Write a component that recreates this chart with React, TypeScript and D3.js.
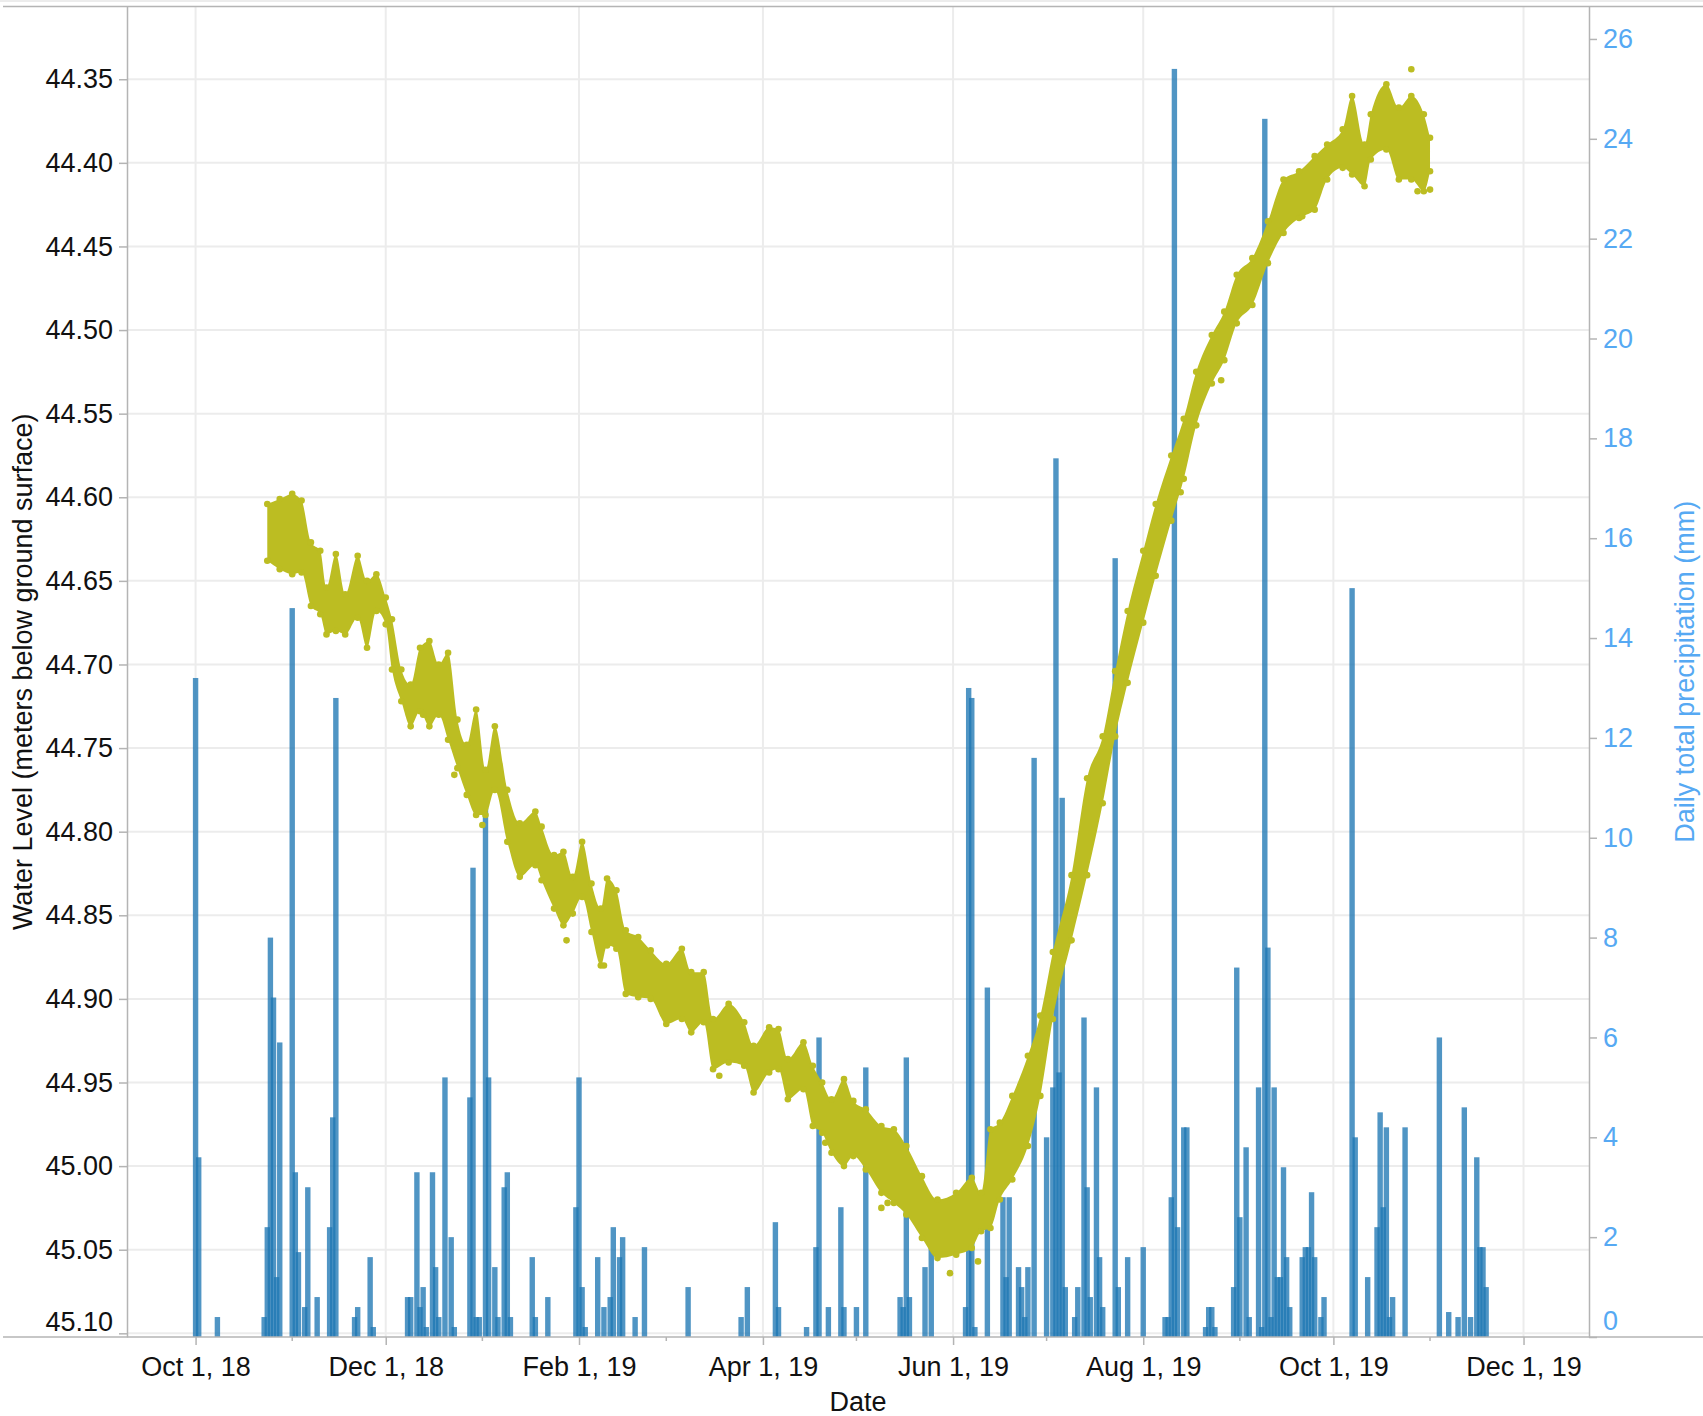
import { useEffect, useRef } from 'react'
import * as d3 from 'd3'

const W = 1703
const H = 1416
const PLOT = { left: 127, right: 1589, top: 6.5, bottom: 1337 }
const FONT = 'Arial, "Liberation Sans", Helvetica, sans-serif'
const FONT_SIZE = 27
const AXIS = '#b4b4b4'
const GRID = '#ececec'
const PRECIP_TEXT = '#56a9f3'
const BAR = '#1f77b4'
const OLIVE = '#bcbd22'
const BAR_W = 5.4

const xDomain = ['2018-09-09', '2019-12-22']
const levelDomain: [number, number] = [44.3065, 45.1022]
const precipDomain: [number, number] = [0, 26.65]

const levelTicks = [44.35, 44.4, 44.45, 44.5, 44.55, 44.6, 44.65, 44.7, 44.75, 44.8, 44.85, 44.9, 44.95, 45.0, 45.05, 45.1]
const precipTicks = [0, 2, 4, 6, 8, 10, 12, 14, 16, 18, 20, 22, 24, 26]
const dateTicks = ['2018-10-01', '2018-12-01', '2019-02-01', '2019-04-01', '2019-06-01', '2019-08-01', '2019-10-01', '2019-12-01']
const minorDateTicks = ['2018-11-01', '2019-01-01', '2019-03-01', '2019-05-01', '2019-07-01', '2019-09-01', '2019-11-01']

// daily total precipitation (mm)
const precipitation: [string, number][] = [
  ['2018-10-01', 13.2], ['2018-10-02', 3.6], ['2018-10-08', 0.4],
  ['2018-10-23', 0.4], ['2018-10-24', 2.2], ['2018-10-25', 8.0], ['2018-10-26', 6.8], ['2018-10-27', 1.2], ['2018-10-28', 5.9],
  ['2018-11-01', 14.6], ['2018-11-02', 3.3], ['2018-11-03', 1.7], ['2018-11-05', 0.6], ['2018-11-06', 3.0], ['2018-11-09', 0.8],
  ['2018-11-13', 2.2], ['2018-11-14', 4.4], ['2018-11-15', 12.8], ['2018-11-21', 0.4], ['2018-11-22', 0.6], ['2018-11-26', 1.6], ['2018-11-27', 0.2],
  ['2018-12-08', 0.8], ['2018-12-09', 0.8], ['2018-12-11', 3.3], ['2018-12-12', 0.6], ['2018-12-13', 1.0], ['2018-12-14', 0.2],
  ['2018-12-16', 3.3], ['2018-12-17', 1.4], ['2018-12-18', 0.4], ['2018-12-20', 5.2], ['2018-12-22', 2.0], ['2018-12-23', 0.2],
  ['2018-12-28', 4.8], ['2018-12-29', 9.4], ['2018-12-30', 0.4], ['2018-12-31', 0.4],
  ['2019-01-02', 10.6], ['2019-01-03', 5.2], ['2019-01-05', 1.4], ['2019-01-06', 0.4], ['2019-01-08', 3.0], ['2019-01-09', 3.3], ['2019-01-10', 0.4],
  ['2019-01-17', 1.6], ['2019-01-18', 0.4], ['2019-01-22', 0.8], ['2019-01-31', 2.6],
  ['2019-02-01', 5.2], ['2019-02-02', 1.0], ['2019-02-03', 0.2], ['2019-02-07', 1.6], ['2019-02-09', 0.6], ['2019-02-11', 0.8],
  ['2019-02-12', 2.2], ['2019-02-14', 1.6], ['2019-02-15', 2.0], ['2019-02-19', 0.4], ['2019-02-22', 1.8],
  ['2019-03-08', 1.0], ['2019-03-25', 0.4], ['2019-03-27', 1.0],
  ['2019-04-05', 2.3], ['2019-04-06', 0.6], ['2019-04-15', 0.2], ['2019-04-18', 1.8], ['2019-04-19', 6.0], ['2019-04-22', 0.6],
  ['2019-04-26', 2.6], ['2019-04-27', 0.6], ['2019-05-01', 0.6], ['2019-05-04', 5.4],
  ['2019-05-15', 0.8], ['2019-05-16', 0.6], ['2019-05-17', 5.6], ['2019-05-18', 0.8], ['2019-05-23', 1.4], ['2019-05-25', 2.2],
  ['2019-06-05', 0.6], ['2019-06-06', 13.0], ['2019-06-07', 12.8], ['2019-06-08', 0.2], ['2019-06-12', 7.0],
  ['2019-06-17', 2.8], ['2019-06-18', 1.2], ['2019-06-19', 2.8], ['2019-06-22', 1.4], ['2019-06-23', 1.0], ['2019-06-24', 0.4],
  ['2019-06-25', 1.4], ['2019-06-27', 11.6],
  ['2019-07-01', 4.0], ['2019-07-03', 5.0], ['2019-07-04', 17.6], ['2019-07-05', 5.3], ['2019-07-06', 10.8], ['2019-07-07', 1.0],
  ['2019-07-10', 0.4], ['2019-07-11', 1.0], ['2019-07-13', 6.4], ['2019-07-14', 3.0], ['2019-07-15', 0.8], ['2019-07-17', 5.0],
  ['2019-07-18', 1.6], ['2019-07-19', 0.6], ['2019-07-23', 15.6], ['2019-07-24', 1.0], ['2019-07-27', 1.6],
  ['2019-08-01', 1.8], ['2019-08-08', 0.4], ['2019-08-09', 0.4], ['2019-08-10', 2.8], ['2019-08-11', 25.4], ['2019-08-12', 2.2],
  ['2019-08-14', 4.2], ['2019-08-15', 4.2], ['2019-08-21', 0.2], ['2019-08-22', 0.6], ['2019-08-23', 0.6], ['2019-08-24', 0.2],
  ['2019-08-30', 1.0], ['2019-08-31', 7.4], ['2019-09-01', 2.4], ['2019-09-03', 3.8], ['2019-09-04', 0.4], ['2019-09-07', 5.0],
  ['2019-09-08', 0.2], ['2019-09-09', 24.4], ['2019-09-10', 7.8], ['2019-09-11', 0.4], ['2019-09-12', 5.0], ['2019-09-13', 1.2],
  ['2019-09-14', 1.2], ['2019-09-15', 3.4], ['2019-09-16', 1.6], ['2019-09-17', 0.6], ['2019-09-21', 1.6], ['2019-09-22', 1.8],
  ['2019-09-23', 1.8], ['2019-09-24', 2.9], ['2019-09-25', 1.6], ['2019-09-27', 0.4], ['2019-09-28', 0.8],
  ['2019-10-07', 15.0], ['2019-10-08', 4.0], ['2019-10-12', 1.2], ['2019-10-15', 2.2], ['2019-10-16', 4.5], ['2019-10-17', 2.6],
  ['2019-10-18', 4.2], ['2019-10-19', 0.4], ['2019-10-20', 0.8], ['2019-10-24', 4.2],
  ['2019-11-04', 6.0], ['2019-11-07', 0.5], ['2019-11-10', 0.4], ['2019-11-12', 4.6], ['2019-11-14', 0.4], ['2019-11-16', 3.6],
  ['2019-11-17', 1.8], ['2019-11-18', 1.8], ['2019-11-19', 1.0],
]

// water level readings: [date, shallowest, deepest] (m below ground surface)
const waterLevelBand: [string, number, number][] = [
  ['2018-10-24', 44.604, 44.638], ['2018-10-28', 44.601, 44.643], ['2018-11-01', 44.598, 44.646], ['2018-11-04', 44.602, 44.645],
  ['2018-11-07', 44.627, 44.665], ['2018-11-10', 44.632, 44.67], ['2018-11-12', 44.654, 44.682], ['2018-11-15', 44.634, 44.68],
  ['2018-11-18', 44.658, 44.682], ['2018-11-22', 44.635, 44.672], ['2018-11-25', 44.65, 44.69], ['2018-11-28', 44.646, 44.668],
  ['2018-12-01', 44.66, 44.676], ['2018-12-03', 44.673, 44.703], ['2018-12-06', 44.703, 44.722], ['2018-12-09', 44.712, 44.737],
  ['2018-12-12', 44.69, 44.728], ['2018-12-15', 44.686, 44.737], ['2018-12-18', 44.7, 44.73], ['2018-12-21', 44.693, 44.745],
  ['2018-12-24', 44.733, 44.762], ['2018-12-27', 44.748, 44.778], ['2018-12-30', 44.727, 44.79], ['2019-01-02', 44.763, 44.79],
  ['2019-01-05', 44.737, 44.775], ['2019-01-09', 44.775, 44.806], ['2019-01-13', 44.795, 44.827], ['2019-01-18', 44.788, 44.82],
  ['2019-01-20', 44.797, 44.829], ['2019-01-24', 44.814, 44.846], ['2019-01-27', 44.812, 44.856], ['2019-01-30', 44.827, 44.849],
  ['2019-02-02', 44.806, 44.839], ['2019-02-05', 44.831, 44.86], ['2019-02-08', 44.846, 44.88], ['2019-02-10', 44.828, 44.868],
  ['2019-02-13', 44.835, 44.87], ['2019-02-16', 44.859, 44.897], ['2019-02-20', 44.863, 44.899], ['2019-02-24', 44.871, 44.9],
  ['2019-03-01', 44.879, 44.915], ['2019-03-06', 44.87, 44.912], ['2019-03-09', 44.884, 44.92], ['2019-03-13', 44.884, 44.914],
  ['2019-03-16', 44.912, 44.942], ['2019-03-21', 44.903, 44.938], ['2019-03-26', 44.914, 44.94], ['2019-03-29', 44.928, 44.956],
  ['2019-04-03', 44.917, 44.944], ['2019-04-06', 44.918, 44.942], ['2019-04-09', 44.936, 44.96], ['2019-04-14', 44.926, 44.954],
  ['2019-04-17', 44.94, 44.976], ['2019-04-20', 44.95, 44.98], ['2019-04-23', 44.96, 44.992], ['2019-04-27', 44.948, 45.0],
  ['2019-04-30', 44.961, 44.994], ['2019-05-04', 44.966, 45.002], ['2019-05-09', 44.976, 45.016], ['2019-05-13', 44.978, 45.022],
  ['2019-05-17', 44.988, 45.029], ['2019-05-22', 45.006, 45.043], ['2019-05-27', 45.02, 45.055], ['2019-06-02', 45.016, 45.053],
  ['2019-06-07', 45.007, 45.049], ['2019-06-10', 45.016, 45.039], ['2019-06-13', 44.978, 45.037], ['2019-06-16', 44.974, 45.02],
  ['2019-06-20', 44.958, 45.008], ['2019-06-25', 44.934, 44.988], ['2019-06-29', 44.91, 44.958], ['2019-07-03', 44.872, 44.912],
  ['2019-07-09', 44.826, 44.865], ['2019-07-14', 44.768, 44.826], ['2019-07-19', 44.743, 44.783], ['2019-07-23', 44.704, 44.743],
  ['2019-07-27', 44.668, 44.711], ['2019-08-01', 44.632, 44.675], ['2019-08-05', 44.604, 44.647], ['2019-08-10', 44.575, 44.614],
  ['2019-08-14', 44.553, 44.589], ['2019-08-18', 44.525, 44.557], ['2019-08-23', 44.503, 44.532], ['2019-08-27', 44.489, 44.518],
  ['2019-08-31', 44.467, 44.496], ['2019-09-05', 44.457, 44.485], ['2019-09-10', 44.435, 44.46], ['2019-09-15', 44.41, 44.442],
  ['2019-09-20', 44.405, 44.433], ['2019-09-25', 44.396, 44.428], ['2019-09-29', 44.389, 44.41], ['2019-10-04', 44.38, 44.403],
  ['2019-10-07', 44.36, 44.407], ['2019-10-11', 44.389, 44.414], ['2019-10-13', 44.371, 44.398], ['2019-10-18', 44.353, 44.392],
  ['2019-10-22', 44.367, 44.41], ['2019-10-26', 44.36, 44.41], ['2019-10-30', 44.371, 44.417], ['2019-11-01', 44.385, 44.405],
]

// isolated readings outside the main band
const waterLevelOutliers: [string, number][] = [
  ['2018-12-13', 44.73], ['2018-12-23', 44.766], ['2019-01-01', 44.796], ['2019-01-28', 44.865], ['2019-02-09', 44.88],
  ['2019-03-18', 44.946], ['2019-04-21', 44.986], ['2019-05-09', 45.025], ['2019-05-11', 45.022], ['2019-05-31', 45.064],
  ['2019-06-09', 45.057], ['2019-08-13', 44.597], ['2019-08-26', 44.53], ['2019-09-21', 44.432], ['2019-10-26', 44.344],
  ['2019-10-28', 44.417], ['2019-11-01', 44.416],
]

export default function App() {
  const svgRef = useRef<SVGSVGElement>(null)

  useEffect(() => {
    if (!svgRef.current) return
    const parse = d3.timeParse('%Y-%m-%d')
    const day = (s: string) => parse(s) as Date

    const x = d3.scaleTime().domain(xDomain.map(day)).range([PLOT.left, PLOT.right])
    const yLevel = d3.scaleLinear().domain(levelDomain).range([PLOT.top, PLOT.bottom])
    const yPrecip = d3.scaleLinear().domain(precipDomain).range([PLOT.bottom, PLOT.top])

    const svg = d3.select(svgRef.current)
    svg.selectAll('*').remove()

    // grid
    const grid = svg.append('g')
    grid.selectAll('line.h')
      .data(levelTicks)
      .join('line')
      .attr('x1', PLOT.left).attr('x2', PLOT.right)
      .attr('y1', (d) => yLevel(d)).attr('y2', (d) => yLevel(d))
      .attr('stroke', GRID).attr('stroke-width', 2)
    grid.selectAll('line.v')
      .data(dateTicks)
      .join('line')
      .attr('x1', (d) => x(day(d))).attr('x2', (d) => x(day(d)))
      .attr('y1', PLOT.top).attr('y2', PLOT.bottom)
      .attr('stroke', GRID).attr('stroke-width', 2)

    // precipitation bars
    svg.append('g')
      .selectAll('rect')
      .data(precipitation)
      .join('rect')
      .attr('x', (d) => x(day(d[0])) - BAR_W / 2)
      .attr('width', BAR_W)
      .attr('y', (d) => yPrecip(d[1]))
      .attr('height', (d) => yPrecip(0) - yPrecip(d[1]))
      .attr('fill', BAR)
      .attr('fill-opacity', 0.78)

    // water level band (dense readings drawn as a filled band with dotted edges)
    const area = d3.area<[string, number, number]>()
      .x((d) => x(day(d[0])))
      .y0((d) => yLevel(d[2]))
      .y1((d) => yLevel(d[1]))
      .curve(d3.curveMonotoneX)
    const wl = svg.append('g')
    wl.append('path').datum(waterLevelBand).attr('d', area).attr('fill', OLIVE)
    const edgePts = waterLevelBand.flatMap((d) => [[d[0], d[1]], [d[0], d[2]]] as [string, number][])
    wl.selectAll('circle.e')
      .data(edgePts.concat(waterLevelOutliers))
      .join('circle')
      .attr('cx', (d) => x(day(d[0])))
      .attr('cy', (d) => yLevel(d[1]))
      .attr('r', 3.3)
      .attr('fill', OLIVE)

    // frame lines
    svg.append('line').attr('x1', 0).attr('x2', W).attr('y1', 1).attr('y2', 1).attr('stroke', '#e6e6e6').attr('stroke-width', 1.5)
    svg.append('line').attr('x1', 3).attr('x2', W).attr('y1', PLOT.top).attr('y2', PLOT.top).attr('stroke', AXIS).attr('stroke-width', 1.5)
    svg.append('line').attr('x1', 3).attr('x2', W).attr('y1', PLOT.bottom).attr('y2', PLOT.bottom).attr('stroke', AXIS).attr('stroke-width', 1.5)

    const styleAxis = (g: d3.Selection<SVGGElement, unknown, null, undefined>, color: string) => {
      g.select('.domain').attr('stroke', AXIS).attr('stroke-width', 1.5)
      g.selectAll('.tick line').attr('stroke', AXIS).attr('stroke-width', 1.5)
      g.selectAll('.tick text').attr('fill', color).attr('font-size', FONT_SIZE).attr('font-family', FONT)
    }

    // left axis
    const gLeft = svg.append('g').attr('transform', `translate(${PLOT.left},0)`)
    gLeft.call(d3.axisLeft(yLevel).tickValues(levelTicks).tickFormat(d3.format('.2f')).tickSize(8).tickSizeOuter(0).tickPadding(6))
    styleAxis(gLeft, '#111')
    gLeft.selectAll<SVGTextElement, number>('.tick text').filter((d) => d === 45.1).attr('y', -11)

    // right axis
    const gRight = svg.append('g').attr('transform', `translate(${PLOT.right},0)`)
    gRight.call(d3.axisRight(yPrecip).tickValues(precipTicks).tickSize(8).tickSizeOuter(0).tickPadding(6))
    styleAxis(gRight, PRECIP_TEXT)
    gRight.selectAll<SVGTextElement, number>('.tick text').filter((d) => d === 0).attr('y', -16)

    // bottom axis
    const gBottom = svg.append('g').attr('transform', `translate(0,${PLOT.bottom})`)
    gBottom.call(d3.axisBottom(x).tickValues(dateTicks.map(day)).tickFormat((d) => d3.timeFormat('%b %-d, %y')(d as Date)).tickSize(8).tickSizeOuter(0).tickPadding(12))
    styleAxis(gBottom, '#111')
    gBottom.select('.domain').remove()
    gBottom.selectAll('line.minor')
      .data(minorDateTicks)
      .join('line')
      .attr('class', 'minor')
      .attr('x1', (d) => x(day(d))).attr('x2', (d) => x(day(d)))
      .attr('y1', 0).attr('y2', 4)
      .attr('stroke', AXIS).attr('stroke-width', 1.5)

    // titles
    svg.append('text')
      .attr('x', (PLOT.left + PLOT.right) / 2).attr('y', 1411)
      .attr('text-anchor', 'middle')
      .attr('font-size', FONT_SIZE).attr('font-family', FONT).attr('fill', '#111')
      .text('Date')
    svg.append('text')
      .attr('transform', `translate(32,${(PLOT.top + PLOT.bottom) / 2}) rotate(-90)`)
      .attr('text-anchor', 'middle')
      .attr('font-size', FONT_SIZE).attr('font-family', FONT).attr('fill', '#111')
      .text('Water Level (meters below ground surface)')
    svg.append('text')
      .attr('transform', `translate(1694,${(PLOT.top + PLOT.bottom) / 2}) rotate(-90)`)
      .attr('text-anchor', 'middle')
      .attr('font-size', FONT_SIZE).attr('font-family', FONT).attr('fill', PRECIP_TEXT)
      .text('Daily total precipitation (mm)')
  }, [])

  return (
    <svg
      ref={svgRef}
      width={W}
      height={H}
      style={{ position: 'absolute', left: 0, top: 0, background: '#fff' }}
    />
  )
}
